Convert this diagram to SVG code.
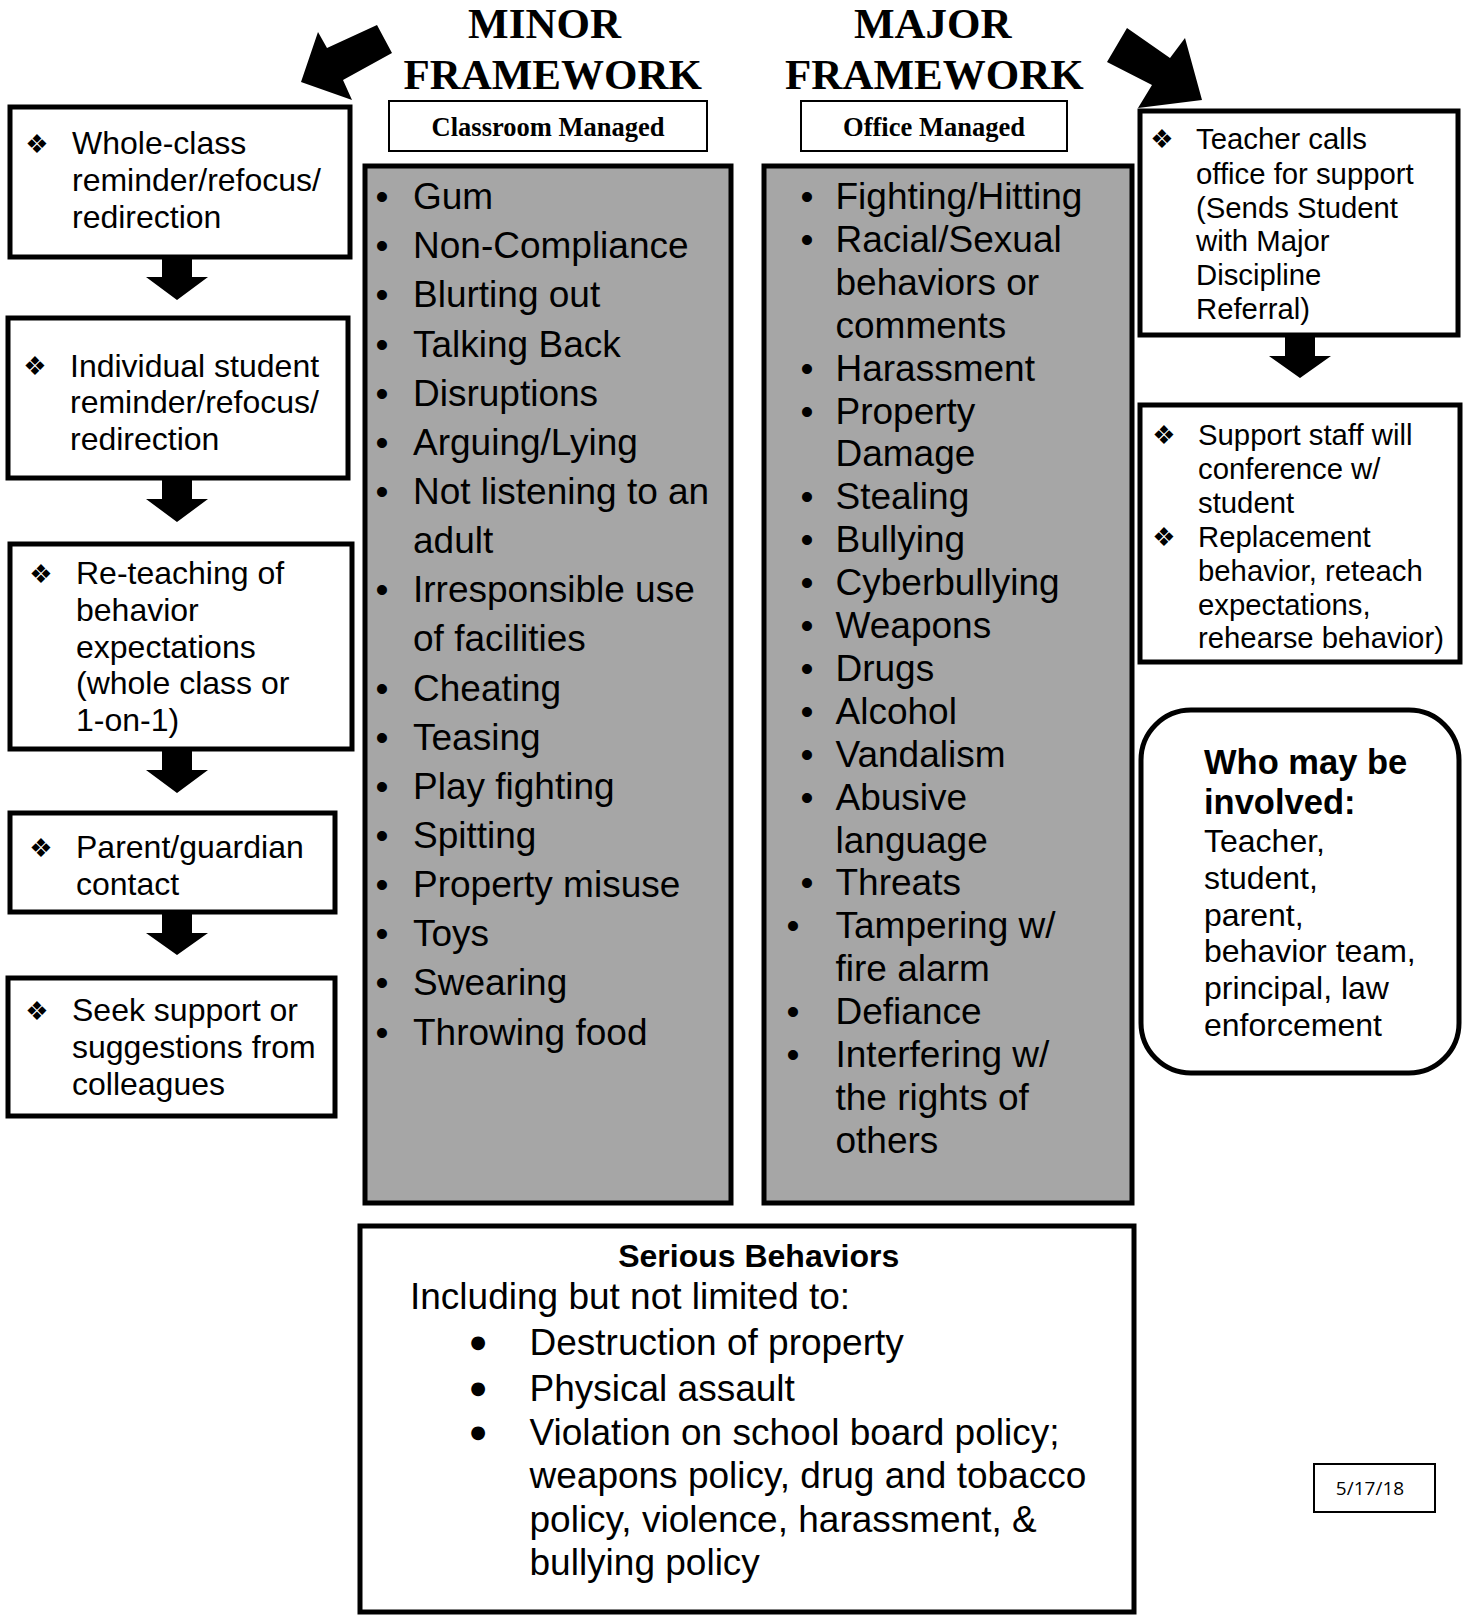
<svg xmlns="http://www.w3.org/2000/svg" width="1468" height="1615" viewBox="0 0 1468 1615">
<style>
.box{fill:#fff;stroke:#000;stroke-width:5}
.gray{fill:#a6a6a6;stroke:#000;stroke-width:5}
.thin{fill:#fff;stroke:#000;stroke-width:2}
.arr{fill:#000;stroke:none}
text{font-family:"Liberation Sans",Arial,sans-serif;fill:#000}
.title{font-family:"Liberation Serif","Times New Roman",serif;font-weight:bold;font-size:43px;text-anchor:middle}
.sub{font-family:"Liberation Serif","Times New Roman",serif;font-weight:bold;font-size:26.5px;text-anchor:middle}
.l{font-size:32px}
.r{font-size:29.3px}
.g{font-size:37px}
.w{font-size:32px}
.wb{font-size:34.5px;font-weight:bold}
.dia{font-family:"DejaVu Sans",sans-serif;font-size:26px;text-anchor:middle}
.bul{font-size:37px;text-anchor:middle}
.bbul{font-family:"DejaVu Sans",sans-serif;font-size:18px;text-anchor:middle}
.date{font-family:"Open Sans","Noto Sans",sans-serif;font-size:19px;text-anchor:middle}
</style>

<g id="connectors">
<polygon class="arr" points="301,82 318,32 327,48 377,25 392,53 343,80 352,100"/>
<polygon class="arr" points="1202,100 1185,38 1170,58 1127,28 1107,62 1152,85 1138,108"/>
<polygon class="arr" points="162,257 192,257 192,277 208,277 177,300 146,277 162,277"/>
<polygon class="arr" points="162,478 192,478 192,499 208,499 177,522 146,499 162,499"/>
<polygon class="arr" points="162,749 192,749 192,770 208,770 177,793 146,770 162,770"/>
<polygon class="arr" points="162,912 192,912 192,933 208,933 177,955 146,933 162,933"/>
<polygon class="arr" points="1285,335 1315,335 1315,356 1331,356 1300,378 1269,356 1285,356"/>
</g>

<g id="minor-title">
<text class="title" x="544.5" y="38">MINOR</text>
<text class="title" x="552.7" y="88.6">FRAMEWORK</text>
</g>
<g id="major-title">
<text class="title" x="932.8" y="38">MAJOR</text>
<text class="title" x="934.4" y="88.6">FRAMEWORK</text>
</g>

<g id="classroom-managed">
<rect class="thin" x="389" y="101" width="318" height="50"/>
<text class="sub" x="548" y="136">Classroom Managed</text>
</g>
<g id="office-managed">
<rect class="thin" x="801" y="101" width="266" height="50"/>
<text class="sub" x="934" y="136">Office Managed</text>
</g>

<g id="step1">
<rect class="box" x="10" y="107" width="340" height="150"/>
<text class="dia" x="37" y="153">❖</text>
<text class="l"><tspan x="72" y="154">Whole-class</tspan><tspan x="72" y="191">reminder/refocus/</tspan><tspan x="72" y="228">redirection</tspan></text>
</g>
<g id="step2">
<rect class="box" x="8" y="318" width="340" height="160"/>
<text class="dia" x="35" y="375">❖</text>
<text class="l"><tspan x="70" y="377">Individual student</tspan><tspan x="70" y="413">reminder/refocus/</tspan><tspan x="70" y="450">redirection</tspan></text>
</g>
<g id="step3">
<rect class="box" x="10" y="544" width="342" height="205"/>
<text class="dia" x="41" y="583">❖</text>
<text class="l"><tspan x="76" y="584">Re-teaching of</tspan><tspan x="76" y="621">behavior</tspan><tspan x="76" y="658">expectations</tspan><tspan x="76" y="694">(whole class or</tspan><tspan x="76" y="731">1-on-1)</tspan></text>
</g>
<g id="step4">
<rect class="box" x="10" y="813" width="325" height="99"/>
<text class="dia" x="41" y="857">❖</text>
<text class="l"><tspan x="76" y="858">Parent/guardian</tspan><tspan x="76" y="895">contact</tspan></text>
</g>
<g id="step5">
<rect class="box" x="8" y="978" width="327" height="138"/>
<text class="dia" x="37" y="1020">❖</text>
<text class="l"><tspan x="72" y="1021">Seek support or</tspan><tspan x="72" y="1058">suggestions from</tspan><tspan x="72" y="1095">colleagues</tspan></text>
</g>

<g id="minor-list">
<rect class="gray" x="365" y="166" width="366" height="1037"/>
<text class="bul" x="382" y="209">•</text>
<text class="bul" x="382" y="258.2">•</text>
<text class="bul" x="382" y="307.3">•</text>
<text class="bul" x="382" y="356.5">•</text>
<text class="bul" x="382" y="405.6">•</text>
<text class="bul" x="382" y="454.8">•</text>
<text class="bul" x="382" y="503.9">•</text>
<text class="bul" x="382" y="602.2">•</text>
<text class="bul" x="382" y="700.5">•</text>
<text class="bul" x="382" y="749.7">•</text>
<text class="bul" x="382" y="798.8">•</text>
<text class="bul" x="382" y="848">•</text>
<text class="bul" x="382" y="897.1">•</text>
<text class="bul" x="382" y="946.3">•</text>
<text class="bul" x="382" y="995.4">•</text>
<text class="bul" x="382" y="1044.6">•</text>
<text class="g"><tspan x="413" y="209">Gum</tspan><tspan x="413" y="258.2">Non-Compliance</tspan><tspan x="413" y="307.3">Blurting out</tspan><tspan x="413" y="356.5">Talking Back</tspan><tspan x="413" y="405.6">Disruptions</tspan><tspan x="413" y="454.8">Arguing/Lying</tspan><tspan x="413" y="503.9">Not listening to an</tspan><tspan x="413" y="553.1">adult</tspan><tspan x="413" y="602.2">Irresponsible use</tspan><tspan x="413" y="651.4">of facilities</tspan><tspan x="413" y="700.5">Cheating</tspan><tspan x="413" y="749.7">Teasing</tspan><tspan x="413" y="798.8">Play fighting</tspan><tspan x="413" y="848">Spitting</tspan><tspan x="413" y="897.1">Property misuse</tspan><tspan x="413" y="946.3">Toys</tspan><tspan x="413" y="995.4">Swearing</tspan><tspan x="413" y="1044.6">Throwing food</tspan></text>
</g>

<g id="major-list">
<rect class="gray" x="764" y="166" width="368" height="1037"/>
<text class="bul" x="807" y="209">•</text>
<text class="bul" x="807" y="251.9">•</text>
<text class="bul" x="807" y="380.6">•</text>
<text class="bul" x="807" y="423.5">•</text>
<text class="bul" x="807" y="509.3">•</text>
<text class="bul" x="807" y="552.2">•</text>
<text class="bul" x="807" y="595.1">•</text>
<text class="bul" x="807" y="638">•</text>
<text class="bul" x="807" y="680.9">•</text>
<text class="bul" x="807" y="723.8">•</text>
<text class="bul" x="807" y="766.7">•</text>
<text class="bul" x="807" y="809.6">•</text>
<text class="bul" x="807" y="895.4">•</text>
<text class="bul" x="793" y="938.3">•</text>
<text class="bul" x="793" y="1024.1">•</text>
<text class="bul" x="793" y="1067">•</text>
<text class="g"><tspan x="835.5" y="209">Fighting/Hitting</tspan><tspan x="835.5" y="251.9">Racial/Sexual</tspan><tspan x="835.5" y="294.8">behaviors or</tspan><tspan x="835.5" y="337.7">comments</tspan><tspan x="835.5" y="380.6">Harassment</tspan><tspan x="835.5" y="423.5">Property</tspan><tspan x="835.5" y="466.4">Damage</tspan><tspan x="835.5" y="509.3">Stealing</tspan><tspan x="835.5" y="552.2">Bullying</tspan><tspan x="835.5" y="595.1">Cyberbullying</tspan><tspan x="835.5" y="638">Weapons</tspan><tspan x="835.5" y="680.9">Drugs</tspan><tspan x="835.5" y="723.8">Alcohol</tspan><tspan x="835.5" y="766.7">Vandalism</tspan><tspan x="835.5" y="809.6">Abusive</tspan><tspan x="835.5" y="852.5">language</tspan><tspan x="835.5" y="895.4">Threats</tspan><tspan x="835.5" y="938.3">Tampering w/</tspan><tspan x="835.5" y="981.2">fire alarm</tspan><tspan x="835.5" y="1024.1">Defiance</tspan><tspan x="835.5" y="1067">Interfering w/</tspan><tspan x="835.5" y="1109.9">the rights of</tspan><tspan x="835.5" y="1152.8">others</tspan></text>
</g>

<g id="office-call">
<rect class="box" x="1140" y="111" width="318" height="224"/>
<text class="dia" x="1162" y="148">❖</text>
<text class="r"><tspan x="1196" y="149">Teacher calls</tspan><tspan x="1196" y="184">office for support</tspan><tspan x="1196" y="218">(Sends Student</tspan><tspan x="1196" y="251">with Major</tspan><tspan x="1196" y="285">Discipline</tspan><tspan x="1196" y="319">Referral)</tspan></text>
</g>
<g id="support-staff">
<rect class="box" x="1140" y="405" width="320" height="257"/>
<text class="dia" x="1164" y="444">❖</text>
<text class="dia" x="1164" y="546">❖</text>
<text class="r"><tspan x="1198" y="445">Support staff will</tspan><tspan x="1198" y="479">conference w/</tspan><tspan x="1198" y="513">student</tspan><tspan x="1198" y="547">Replacement</tspan><tspan x="1198" y="581">behavior, reteach</tspan><tspan x="1198" y="615">expectations,</tspan><tspan x="1198" y="648">rehearse behavior)</tspan></text>
</g>
<g id="who-involved">
<rect class="box" x="1141" y="710" width="318" height="363" rx="50" ry="50"/>
<text class="wb"><tspan x="1204" y="774">Who may be</tspan><tspan x="1204" y="814">involved:</tspan></text>
<text class="w"><tspan x="1204" y="852">Teacher,</tspan><tspan x="1204" y="889">student,</tspan><tspan x="1204" y="926">parent,</tspan><tspan x="1204" y="962">behavior team,</tspan><tspan x="1204" y="999">principal, law</tspan><tspan x="1204" y="1036">enforcement</tspan></text>
</g>

<g id="serious-behaviors">
<rect class="box" x="360" y="1226" width="774" height="386"/>
<text class="w" x="758.7" y="1267" font-weight="bold" text-anchor="middle">Serious Behaviors</text>
<text class="g" x="410" y="1309">Including but not limited to:</text>
<text class="bbul" x="478" y="1348">●</text>
<text class="bbul" x="478" y="1394">●</text>
<text class="bbul" x="478" y="1438">●</text>
<text class="g"><tspan x="529.5" y="1355">Destruction of property</tspan><tspan x="529.5" y="1401">Physical assault</tspan><tspan x="529.5" y="1445">Violation on school board policy;</tspan><tspan x="529.5" y="1488">weapons policy, drug and tobacco</tspan><tspan x="529.5" y="1532">policy, violence, harassment, &amp;</tspan><tspan x="529.5" y="1575">bullying policy</tspan></text>
</g>

<g id="date">
<rect class="thin" x="1314" y="1464" width="121" height="48"/>
<text class="date" x="1370" y="1495">5/17/18</text>
</g>
</svg>
